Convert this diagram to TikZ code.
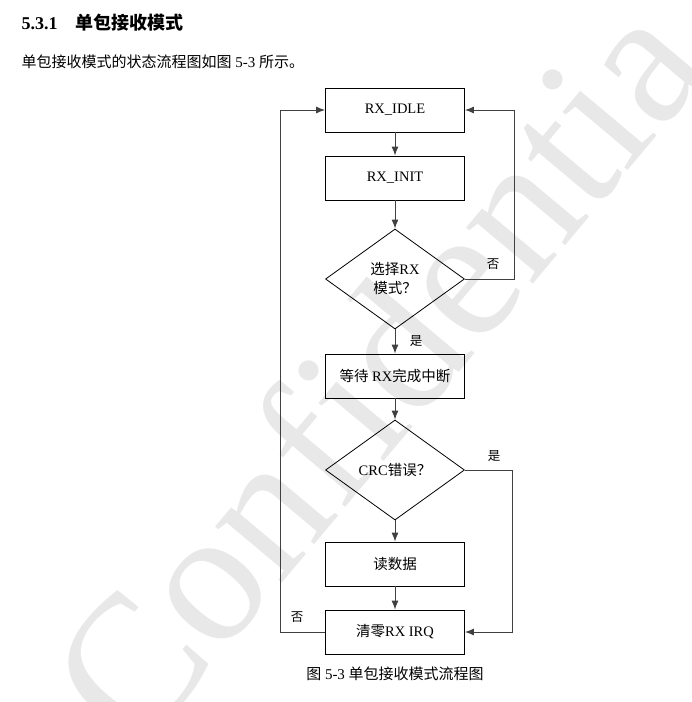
\documentclass[tikz,border=0pt]{standalone}
\usepackage{fontspec}
\setmainfont{Liberation Serif}
\newfontfamily\cjk{Noto Sans CJK SC}
\usetikzlibrary{shapes.geometric,arrows.meta}
\begin{document}
\begin{tikzpicture}[x=1pt,y=-1pt,
  box/.style={draw,minimum width=139pt,minimum height=44pt,font=\fontsize{14.5}{16}\selectfont,line width=0.8pt},
  dia/.style={draw,diamond,minimum width=139pt,minimum height=100pt,inner sep=0pt,aspect=1.39,font=\fontsize{14.5}{19}\selectfont,align=center,line width=0.8pt},
  conn/.style={line width=1pt,draw=black!75,-{Latex[length=9pt,width=7pt]}},
  lab/.style={font=\cjk\fontsize{12.5}{14}\selectfont}]
\useasboundingbox (0,0) rectangle (692,702);
\begin{scope}
\clip (0,0) rectangle (692,702);
\node[rotate=50,text=black!9,font=\fontsize{190}{190}\selectfont] (wm) at (375,370) {Confidentia};
\end{scope}
\node[anchor=west,font=\bfseries\fontsize{18}{20}\selectfont] (title) at (18,23) {5.3.1\quad{\cjk 单包接收模式}};
\node[anchor=west,font=\fontsize{15}{17}\selectfont] (sub) at (18,62) {{\cjk 单包接收模式的状态流程图如图} 5-3 {\cjk 所示。}};
\node[box] (idle) at (395,110) {RX\_IDLE};
\node[box] (init) at (395,178) {RX\_INIT};
\node[dia] (d1) at (395,279) {{\cjk 选择}RX\\{\cjk 模式？}};
\node[box] (wait) at (395,376) {{\cjk 等待} RX{\cjk 完成中断}};
\node[dia] (d2) at (395,470) {CRC{\cjk 错误？}};
\node[box] (read) at (395,564) {\cjk 读数据};
\node[box] (clr) at (395,632) {{\cjk 清零}RX IRQ};
\coordinate (r1) at (514,279);
\coordinate (r1t) at (514,110);
\coordinate (r2) at (512,470);
\coordinate (r2b) at (512,632);
\coordinate (l1) at (280,632);
\coordinate (l1t) at (280,110);
\draw[conn] (idle) -- (init);
\draw[conn] (init) -- (d1);
\draw[conn] (d1) -- (wait);
\draw[conn] (wait) -- (d2);
\draw[conn] (d2) -- (read);
\draw[conn] (read) -- (clr);
\draw[conn] (d1.east) -- (r1) -- (r1t) -- (idle.east);
\draw[conn] (d2.east) -- (r2) -- (r2b) -- (clr.east);
\draw[conn] (clr.west) -- (l1) -- (l1t) -- (idle.west);
\node[lab] (n1) at (493,264) {否};
\node[lab] (y1) at (416,341) {是};
\node[lab] (y2) at (494,456) {是};
\node[lab] (n2) at (297,617) {否};
\node[font=\fontsize{15}{17}\selectfont] (cap) at (395,674) {{\cjk 图} 5-3 {\cjk 单包接收模式流程图}};
\end{tikzpicture}
\end{document}
